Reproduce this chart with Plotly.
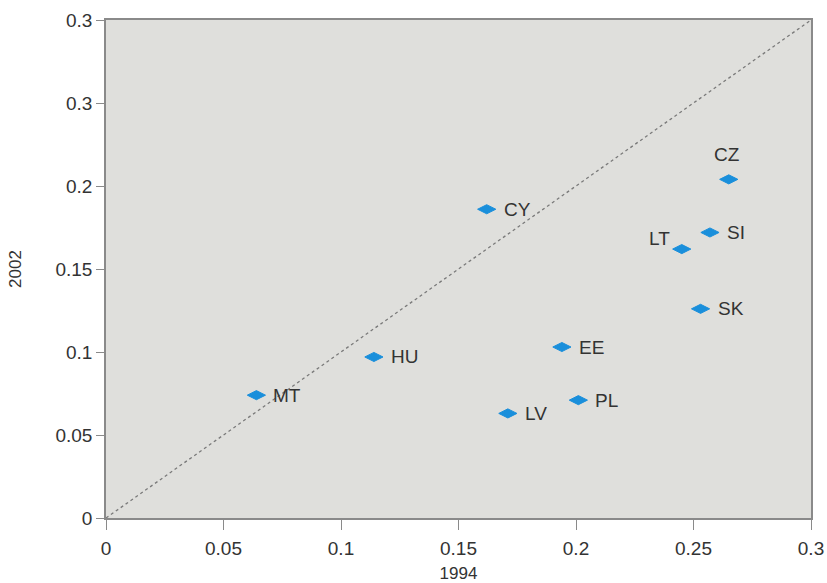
import plotly.graph_objects as go

# Country values, 1994 vs 2002
countries = ["MT", "HU", "CY", "LV", "EE", "PL", "LT", "SI", "SK", "CZ"]
v1994 = [0.064, 0.114, 0.162, 0.171, 0.194, 0.201, 0.245, 0.257, 0.253, 0.265]
v2002 = [0.074, 0.097, 0.186, 0.063, 0.103, 0.071, 0.162, 0.172, 0.126, 0.204]

x_ticks = [0, 0.05, 0.1, 0.15, 0.2, 0.25, 0.3]
x_tick_labels = ["0", "0.05", "0.1", "0.15", "0.2", "0.25", "0.3"]
y_ticks = [0, 0.05, 0.1, 0.15, 0.2, 0.25, 0.3]
y_tick_labels = ["0", "0.05", "0.1", "0.15", "0.2", "0.3", "0.3"]

# label placement per country: (xanchor, yanchor, xshift, yshift)
label_style = {
    "CZ": ("center", "bottom", -2, 12),
    "LT": ("right", "bottom", -10, -2),
}
default_style = ("left", "middle", 15, 0)

axis_color = "#8a8a8a"
text_color = "#333333"
font_family = "Liberation Sans, Arial, sans-serif"

fig = go.Figure()

# 45-degree reference line
fig.add_trace(go.Scatter(
    x=[x_ticks[0], x_ticks[-1]], y=[y_ticks[0], y_ticks[-1]],
    mode="lines",
    line=dict(color="#7a7a7a", width=1.3, dash="3px,3px"),
    hoverinfo="skip", showlegend=False,
))

fig.add_trace(go.Scatter(
    x=v1994, y=v2002, mode="markers",
    marker=dict(symbol="diamond-wide", size=13, color="#1a8fdb",
                line=dict(width=1, color="#1a8fdb")),
    text=countries, showlegend=False,
))

for c, xv, yv in zip(countries, v1994, v2002):
    xa, ya, xs, ys = label_style.get(c, default_style)
    fig.add_annotation(
        x=xv, y=yv, text=c, showarrow=False,
        xanchor=xa, yanchor=ya, xshift=xs, yshift=ys,
        font=dict(size=19, color=text_color, family=font_family),
    )

axis_common = dict(
    showgrid=False, zeroline=False, automargin=False,
    showline=True, linecolor=axis_color, linewidth=1.5, mirror=True,
    ticks="outside", tickcolor=axis_color, tickwidth=1.2,
    tickfont=dict(size=19, color=text_color, family=font_family),
)

fig.update_xaxes(
    range=[0, 0.3], tickvals=x_ticks, ticktext=x_tick_labels, ticklen=10,
    ticklabelstandoff=2,
    title=dict(text="1994", font=dict(size=17, color=text_color, family=font_family),
               standoff=10),
    **axis_common,
)
fig.update_yaxes(
    range=[0, 0.3], tickvals=y_ticks, ticktext=y_tick_labels, ticklen=8,
    title=dict(text="2002", font=dict(size=17, color=text_color, family=font_family),
               standoff=30),
    **axis_common,
)

fig.update_layout(
    width=827, height=583,
    margin=dict(l=106, r=16, t=20, b=65),
    plot_bgcolor="#dfdfdc",
    paper_bgcolor="white",
)

fig.write_html("out.html")
